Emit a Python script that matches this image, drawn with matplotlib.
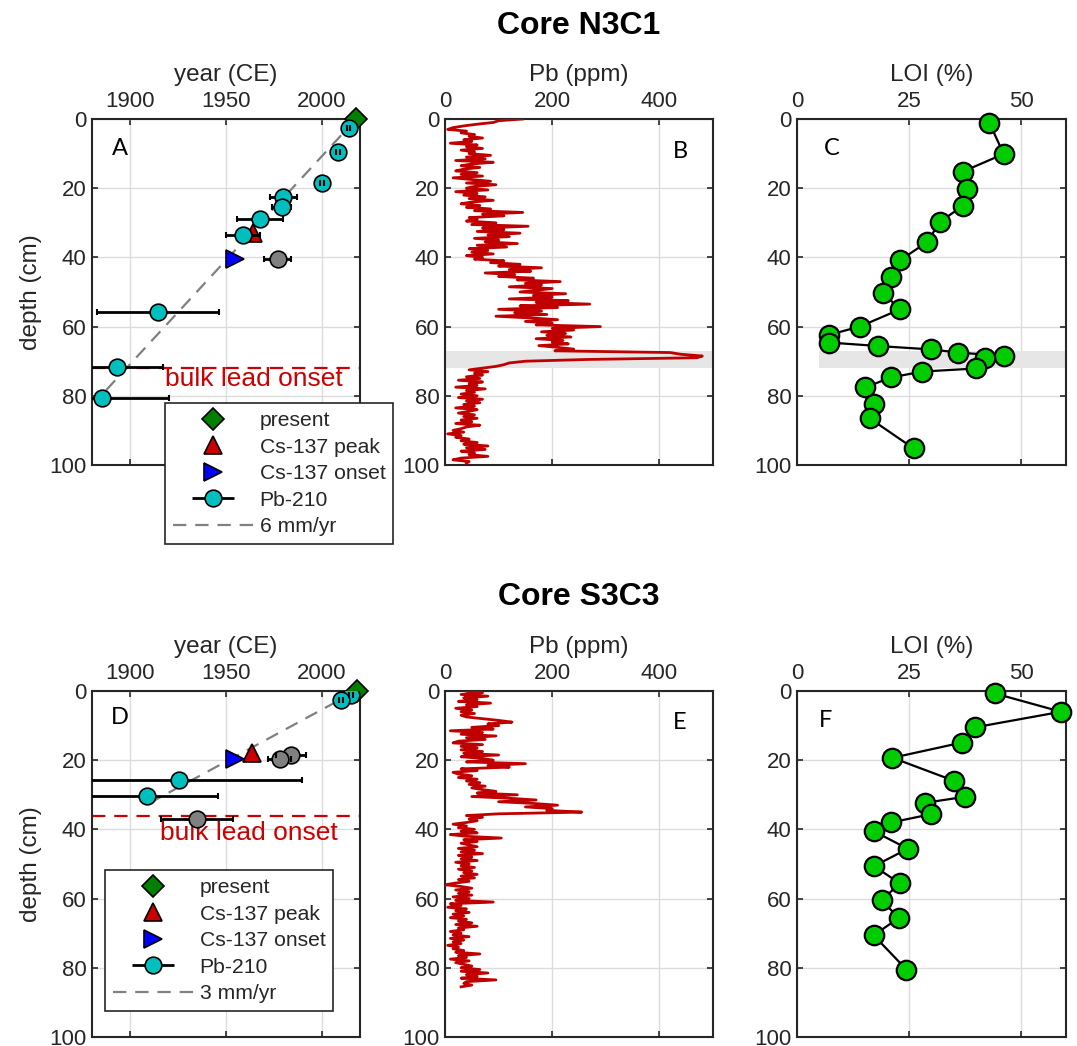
import numpy as np
import matplotlib.pyplot as plt
from matplotlib.legend_handler import HandlerErrorbar

plt.rcParams['font.family'] = ['Liberation Sans', 'DejaVu Sans']
TXT = '#262626'

# ---------------- Core N3C1 ----------------
n_present = (2018, 0.0)
n_peak = (1964, 33.0)
n_onset = (1954.5, 40.5)
n_pb_year = [2014, 2008.5, 2000, 1980, 1979, 1968, 1959, 1914.5, 1893, 1885]
n_pb_depth = [2.6, 9.5, 18.5, 22.5, 25.4, 28.9, 33.5, 55.8, 71.6, 80.6]
n_pb_err = [1, 1, 1, 7, 5, 12, 9, 32, 24, 35]
n_gray_year = [1977]
n_gray_depth = [40.5]
n_gray_err = [7]
n_rate_years = [2018, 1885]   # 6 mm/yr line
n_rate = 0.6                  # cm per year
n_bulk = 72.0

# Pb XRF, 0.5 cm steps
n_pb_step = 0.5
n_pb_ppm = [
    145, 100, 90, 60, 35, 15, 5, 40, 30, 55,
    45, 70, 35, 50, 10, 60, 40, 70, 30, 55,
    45, 85, 40, 75, 20, 90, 50, 30, 65, 35,
    20, 60, 30, 70, 15, 50, 85, 40, 95, 55,
    40, 80, 20, 60, 35, 75, 45, 90, 50, 30,
    65, 40, 85, 55, 145, 70, 110, 45, 60, 40,
    95, 50, 155, 70, 110, 60, 140, 80, 120, 55,
    100, 75, 135, 60, 115, 45, 80, 50, 90, 40,
    70, 55, 110, 85, 140, 100, 180, 120, 160, 75,
    130, 100, 165, 135, 215, 150, 180, 120, 200, 170,
    140, 225, 165, 200, 120, 230, 170, 270, 140, 210,
    100, 180, 130, 190, 95, 160, 210, 150, 200, 170,
    290, 200, 240, 180, 225, 190, 235, 170, 220, 200,
    230, 175, 210, 240, 205, 420, 440, 480, 470, 265,
    150, 120, 110, 95, 70, 45, 80, 55, 70, 40,
    65, 25, 70, 45, 60, 20, 75, 40, 55, 30,
    60, 25, 70, 40, 65, 35, 55, 20, 60, 45,
    25, 55, 35, 60, 30, 50, 20, 65, 40, 30,
    15, 35, 5, 30, 20, 45, 30, 60, 35, 80,
    40, 75, 30, 55, 45, 80, 30, 15, 45, 40,
]
n_loi_depth = [1.1, 10.1, 15.2, 20.1, 25.1, 29.7, 35.6, 40.8, 45.6, 50.2, 55.0,
               60.0, 62.4, 64.6, 65.6, 66.6, 67.5, 68.5, 69.2, 72.1, 73.0, 74.7,
               77.6, 82.5, 86.5, 95.2]
n_loi = [42.9, 46.1, 37.0, 37.9, 37.0, 31.9, 29.0, 23.0, 21.0, 19.1, 23.0,
         14.0, 7.1, 7.1, 18.0, 29.9, 36.0, 46.1, 42.0, 40.0, 27.9, 21.0,
         15.1, 17.1, 16.2, 26.0]
n_band = (67.1, 72.0)

# ---------------- Core S3C3 ----------------
s_present = (2018.3, 0.0)
s_peak = (1963.5, 18.0)
s_onset = (1954.8, 19.7)
s_pb_year = [2015.4, 2010, 1925.6, 1908.7]
s_pb_depth = [1.2, 2.6, 25.6, 30.4]
s_pb_err = [1, 1, 64, 37]
s_gray_year = [1984, 1978, 1934.8]
s_gray_depth = [18.5, 19.7, 37.0]
s_gray_err = [8, 6, 19]
s_rate_years = [2018, 1909]   # 3 mm/yr line
s_rate = 0.3
s_bulk = 36.1

s_pb_step = 0.5
s_pb_ppm = [
    40, 70, 30, 80, 35, 60, 25, 85, 40, 60,
    20, 50, 30, 55, 30, 40, 70, 100, 125, 80,
    100, 50, 90, 10, 70, 30, 95, 40, 75, 25,
    15, 70, 30, 60, 30, 70, 35, 100, 30, 70,
    90, 40, 150, 80, 120, 30, 60, 15, 25, 50,
    25, 60, 40, 65, 45, 75, 50, 70, 95, 60,
    135, 50, 120, 170, 100, 165, 210, 150, 200, 190,
    255, 100, 40, 70, 45, 60, 40, 15, 40, 25,
    55, 30, 60, 10, 40, 105, 35, 60, 30, 45,
    60, 25, 55, 30, 70, 25, 50, 30, 60, 20,
    45, 30, 55, 25, 50, 35, 60, 30, 55, 25,
    45, 20, 0, 30, 50, 20, 45, 25, 50, 15,
    45, 20, 90, 10, 30, 5, 40, 20, 45, 15,
    35, 10, 40, 25, 50, 20, 60, 25, 35, 10,
    30, 15, 45, 10, 35, 15, 30, 5, 25, 15,
    35, 20, 65, 25, 40, 10, 45, 20, 35, 50,
    30, 65, 30, 80, 40, 60, 30, 95, 40, 35,
    50, 30,
]
s_loi_depth = [0.7, 6.0, 10.5, 14.9, 19.3, 26.0, 30.6, 32.3, 35.6, 38.0, 40.5,
               45.6, 50.6, 55.6, 60.5, 65.6, 70.6, 80.5]
s_loi = [44.1, 58.9, 39.7, 36.8, 21.3, 35.1, 37.4, 28.6, 29.9, 21.0, 17.1,
         24.7, 17.2, 22.9, 18.9, 22.7, 17.1, 24.4]

fig = plt.figure(figsize=(10.77, 10.46), dpi=100)
W, H = 1077, 1046
LBL = 17.5


def make_ax(left, top, right, bottom):
    ax = fig.add_axes([left / W, 1 - bottom / H, (right - left) / W, (bottom - top) / H])
    ax.set_ylim(100, 0)
    ax.set_yticks([0, 20, 40, 60, 80, 100])
    ax.xaxis.set_label_position('top')
    ax.tick_params(direction='in', top=True, bottom=True, left=True, right=True,
                   labeltop=True, labelbottom=False, labelsize=16, colors=TXT,
                   length=4, width=1.2, pad=5)
    ax.tick_params(axis='y', pad=4)
    ax.grid(True, color='#dcdcdc', lw=1)
    ax.set_axisbelow(True)
    for s in ax.spines.values():
        s.set_linewidth(1.5)
        s.set_color(TXT)
    return ax


def panel_letter(ax, x, y, s):
    ax.text(x, y, s, transform=ax.transAxes, fontsize=17, family='Lato',
            ha='center', va='center', color='k', zorder=10)


def age_panel(ax, present, peak, onset, pby, pbd, pbe, gy, gd, ge, ryears, rate, bulk,
              bulk_pos, rate_label, leg_anchor):
    ax.set_xlim(1880, 2020)
    ax.set_xticks([1900, 1950, 2000])
    ax.set_xlabel('year (CE)', fontsize=LBL, color=TXT, labelpad=7)
    ry = np.array(ryears)
    rl, = ax.plot(ry, (ryears[0] - ry) * rate, color='#808080', lw=1.6,
                  dashes=(6, 4), zorder=2)
    ax.axhline(bulk, color='#CC0000', lw=1.6, dashes=(6, 4), zorder=2)
    ax.text(bulk_pos[0], bulk_pos[1], 'bulk lead onset', color='#CC0000', fontsize=19,
            ha='center', va='center', zorder=3)
    hp, = ax.plot(*present, 'D', ms=11, mfc='#007F00', mec='k', mew=1.2, zorder=4,
                  clip_on=False)
    hk, = ax.plot(*peak, '^', ms=13, mfc='#CC0000', mec='k', mew=1.2, zorder=4)
    ho, = ax.plot(*onset, '>', ms=13, mfc='#0000FF', mec='k', mew=1.2, zorder=4)
    ax.errorbar(gy, gd, xerr=ge, fmt='o', ms=12, mfc='#808080', mec='k', mew=1.2,
                ecolor='k', elinewidth=2, capsize=0, zorder=4)
    ax.errorbar(gy, gd, xerr=ge, fmt='none', ecolor='k', elinewidth=0,
                capsize=2.5, capthick=1.5, zorder=5)
    hpb = ax.errorbar(pby, pbd, xerr=pbe, fmt='o', ms=12, mfc='#00BFBF', mec='k',
                      mew=1.2, ecolor='k', elinewidth=2, capsize=0, zorder=4.5)
    ax.errorbar(pby, pbd, xerr=pbe, fmt='none', ecolor='k', elinewidth=0,
                capsize=2.5, capthick=1.5, zorder=5)
    ax.set_ylabel('depth (cm)', fontsize=LBL, color=TXT, labelpad=5)
    leg = ax.legend([hp, hk, ho, hpb, rl],
                    ['present', 'Cs-137 peak', 'Cs-137 onset', 'Pb-210', rate_label],
                    loc='upper left', bbox_to_anchor=leg_anchor, bbox_transform=fig.transFigure,
                    borderaxespad=0, fontsize=15.2, handlelength=3.8, handletextpad=0.3,
                    labelspacing=0.36, borderpad=0.38, fancybox=False, framealpha=1,
                    edgecolor=TXT, labelcolor=TXT,
                    handler_map={type(hpb): HandlerErrorbar(xerr_size=1.0)})
    leg.get_frame().set_linewidth(1.2)
    leg.set_zorder(20)


def pb_panel(ax, step, ppm, band=None):
    ax.set_xlim(0, 500)
    ax.set_xticks([0, 200, 400])
    ax.set_xlabel('Pb (ppm)', fontsize=LBL, color=TXT, labelpad=7)
    d = np.arange(len(ppm)) * step
    if band:
        ax.axhspan(band[0], band[1], color='#e6e6e6', lw=0, zorder=1)
    ax.plot(ppm, d, color='#C00000', lw=2.0, zorder=3)


def loi_panel(ax, depth, loi, band=None):
    ax.set_xlim(0, 60)
    ax.set_xticks([0, 25, 50])
    ax.set_xlabel('LOI (%)', fontsize=LBL, color=TXT, labelpad=7)
    if band:
        ax.fill_betweenx(band, 5, 60, color='#e6e6e6', lw=0, zorder=1)
    ax.plot(loi, depth, '-o', color='k', lw=1.6, ms=14, mfc='#00CC00', mec='k',
            mew=1.6, zorder=3, clip_on=False)


# top row
axA = make_ax(92, 119, 360, 465)
axB = make_ax(445, 119, 713, 465)
axC = make_ax(797, 119, 1066, 465)
# bottom row
axD = make_ax(92, 691, 360, 1037)
axE = make_ax(445, 691, 713, 1037)
axF = make_ax(797, 691, 1066, 1037)

age_panel(axA, n_present, n_peak, n_onset, n_pb_year, n_pb_depth, n_pb_err,
          n_gray_year, n_gray_depth, n_gray_err, n_rate_years, n_rate, n_bulk,
          (1964.7, 75.0), '6 mm/yr', (165 / W, 1 - 403 / H))
pb_panel(axB, n_pb_step, n_pb_ppm, n_band)
loi_panel(axC, n_loi_depth, n_loi, n_band)

age_panel(axD, s_present, s_peak, s_onset, s_pb_year, s_pb_depth, s_pb_err,
          s_gray_year, s_gray_depth, s_gray_err, s_rate_years, s_rate, s_bulk,
          (1961.7, 40.9), '3 mm/yr', (105 / W, 1 - 870 / H))
pb_panel(axE, s_pb_step, s_pb_ppm)
loi_panel(axF, s_loi_depth, s_loi)

for ax, (x, y, s) in zip([axA, axB, axC, axD, axE, axF],
                         [(0.104, 0.916, 'A'), (0.877, 0.905, 'B'), (0.13, 0.916, 'C'),
                          (0.104, 0.922, 'D'), (0.877, 0.91, 'E'), (0.108, 0.916, 'F')]):
    panel_letter(ax, x, y, s)

fig.text(579 / W, 1 - 26 / H, 'Core N3C1', fontsize=23, fontweight='bold',
         ha='center', va='center', color='k')
fig.text(579 / W, 1 - 597 / H, 'Core S3C3', fontsize=23, fontweight='bold',
         ha='center', va='center', color='k')

fig.savefig('out.png', dpi=100)
